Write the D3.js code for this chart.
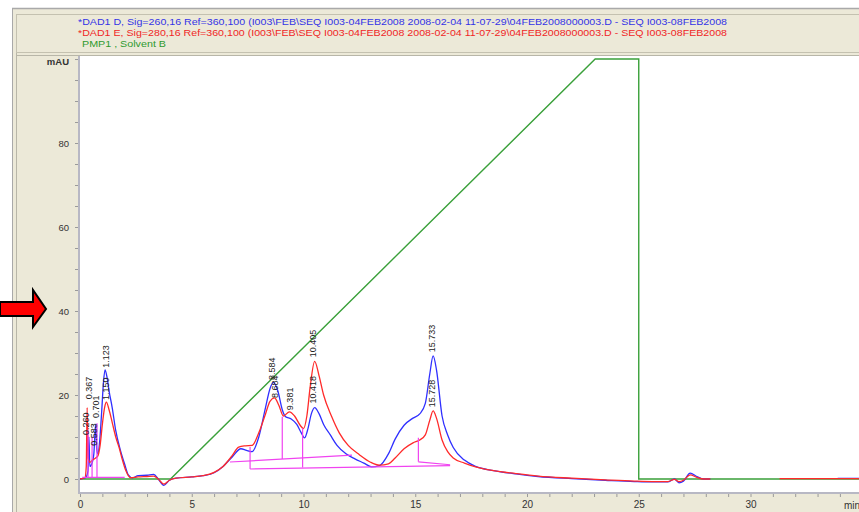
<!DOCTYPE html>
<html lang="en">
<head>
<meta charset="UTF-8" />
<title>Chromatogram DAD1 D / DAD1 E / Solvent B</title>
<script src="https://d3js.org/d3.v7.min.js"></script>
<style>
  html, body { margin: 0; padding: 0; background: #fff; }
  svg { display: block; font-family: Arial, "Liberation Sans", sans-serif; }
</style>
</head>
<body>
<div id="chart"></div>

<script>
// DAD1 D (260 nm) - retention time (min) and absorbance (mAU); null = no trace
const blueTime = [0, 0.25, 0.36, 0.40, 0.44, 0.55, 0.62, 0.70, 0.75, 0.80, 0.88, 0.97, 1.05, 1.12, 1.2, 1.3, 1.44, 1.6, 1.8, 2.0, 2.16, 2.35, 2.6, 3.0, 3.3, 3.5, 3.75, 4.0, 4.3, 5.0, 5.5, 6.0, 6.4, 6.8, 7.2, 7.45, 7.7, 8.0, 8.3, 8.5, 8.65, 8.85, 9.05, 9.2, 9.45, 9.7, 9.9, 10.05, 10.2, 10.35, 10.5, 10.7, 10.9, 11.2, 11.5, 11.9, 12.3, 12.7, 13.05, 13.4, 13.8, 14.1, 14.5, 14.9, 15.2, 15.45, 15.65, 15.8, 15.95, 16.2, 16.45, 16.7, 17.2, 17.7, 18.5, 19.5, 20.5, 22, 23.5, 24.8, 25.6, 26.3, 26.6, 26.8, 27.0, 27.3, 27.6, 27.9, 28.2, 28.3, 33.9, 35];
const blueMAU  = [0, 0.3, 2, 10, 3, 4, 6, 13, 7, 6, 9, 16, 23, 26, 24.5, 21, 17, 11.5, 7, 3.5, 1, 0.3, 0.8, 0.9, 1.1, 0, -1.5, -0.3, 0.2, 0.5, 0.8, 1.5, 3, 5.2, 7.2, 6.8, 6.5, 10, 17, 21.5, 23, 21, 16.5, 14.8, 14.3, 13, 11, 9.8, 12, 15.5, 17, 15.5, 13, 10.5, 8, 6, 4.8, 3.8, 2.9, 3.2, 6, 9.5, 12.8, 14.5, 15.5, 18, 25, 29.3, 26, 15, 10.5, 7.5, 4.5, 3, 2, 1.2, 0.6, 0.1, -0.3, -0.6, -0.7, -0.7, 0, -0.9, -0.5, 1.4, 0.6, 0, 0, null, 0.15, 0.15];

// DAD1 E (280 nm)
const redTime = [0, 0.22, 0.28, 0.32, 0.36, 0.45, 0.55, 0.70, 0.8, 0.9, 1.0, 1.1, 1.18, 1.3, 1.44, 1.6, 1.75, 1.9, 2.05, 2.25, 2.6, 3.0, 3.3, 3.5, 3.75, 4.0, 4.3, 5.0, 5.5, 6.0, 6.4, 6.8, 7.1, 7.4, 7.7, 8.0, 8.3, 8.5, 8.7, 8.9, 9.1, 9.37, 9.6, 9.85, 10.0, 10.15, 10.3, 10.5, 10.7, 10.9, 11.25, 11.6, 12.0, 12.5, 13.0, 13.4, 13.8, 14.1, 14.5, 14.9, 15.2, 15.45, 15.65, 15.8, 15.95, 16.2, 16.45, 16.7, 17.2, 17.7, 18.5, 19.5, 20.5, 22, 23.5, 24.8, 25.6, 26.3, 26.6, 26.8, 27.0, 27.3, 27.6, 27.9, 28.2, 28.3, 31.3, 35];
const redMAU  = [0, 0.3, 3, 17, 5, 4, 4.5, 5, 5.5, 8, 13, 17, 18.3, 16.5, 13.5, 10, 7.5, 4.5, 2, 0.3, 0.5, 0.6, 0.7, 0, -1.2, -0.3, 0.2, 0.5, 0.8, 1.6, 3, 5.5, 7.6, 7.9, 8, 11, 15.5, 18.5, 19.3, 17.5, 15, 16, 15, 12.8, 12, 15, 22, 28, 24.5, 20, 15, 11, 8, 5.8, 4, 3.3, 3.6, 5, 7.2, 8.6, 9.3, 10.5, 14, 16.2, 14.5, 9.3, 6.5, 5, 3.8, 2.9, 2.0, 1.3, 0.7, 0.2, -0.2, -0.5, -0.6, -0.6, -0.1, -0.6, -0.3, 1.0, 0.4, 0, 0, null, 0.1, 0.1];

// PMP1 solvent B (%)
const solventTime = [0, 4.05, 23.05, 25.0, 25.0, 35];
const solventB    = [0, 0, 100, 100, 0, 0];

// integration baselines: start and end point [min, mAU]
const baselineFrom = [[0.1, 0.4], [0.36, 0.4], [0.54, 0.4], [0.76, 0.4], [6.71, 4.05], [7.61, 2.38], [7.61, 2.38], [9.05, 4.76], [9.96, 2.76], [15.14, 4.1], [15.14, 4.1]];
const baselineTo   = [[2.0, 0.4], [0.36, 11.7], [0.54, 10], [0.76, 13.3], [12.17, 5.7], [16.56, 3.2], [7.61, 7.6], [9.05, 14.8], [9.96, 12.1], [15.14, 9.8], [16.56, 3.4]];

// peak retention time labels, label time and foot height (mAU)
const peakLabels    = ["0.260", "0.367", "0.583", "0.701", "1.123", "1.150", "8.584", "8.684", "9.381", "10.405", "10.418", "15.733", "15.728"];
const peakLabelTime = [0.26, 0.367, 0.583, 0.701, 1.123, 1.15, 8.584, 8.684, 9.381, 10.405, 10.418, 15.733, 15.728];
const peakLabelMAU  = [10.5, 19, 7.9, 14.5, 26.5, 18.8, 23.6, 19.3, 16.4, 29, 18, 30.2, 17.1];

const yTickValues = [0, 20, 40, 60, 80];
const xTickValues = [0, 5, 10, 15, 20, 25, 30];

const headerLines = [
  "*DAD1 D, Sig=260,16 Ref=360,100 (I003\\FEB\\SEQ I003-04FEB2008 2008-02-04 11-07-29\\04FEB2008000003.D - SEQ I003-08FEB2008",
  "*DAD1 E, Sig=280,16 Ref=360,100 (I003\\FEB\\SEQ I003-04FEB2008 2008-02-04 11-07-29\\04FEB2008000003.D - SEQ I003-08FEB2008",
  "PMP1 , Solvent B"
];
const headerColors = ["#3434e6", "#f02626", "#2f9a2f"];

document.addEventListener("DOMContentLoaded", () => {
  const width = 859, height = 512;
  const beige = "#ece9d8";

  const svg = d3.select("#chart").append("svg")
    .attr("width", width)
    .attr("height", height)
    .attr("viewBox", [0, 0, width, height]);

  const x = d3.scaleLinear().domain([0, 35]).range([80, 80 + 35 * 22.35]);
  const y = d3.scaleLinear().domain([-3.33, 100.48]).range([493, 57]);

  // window frame
  svg.append("rect").attr("width", width).attr("height", height).attr("fill", "#fff");
  svg.append("rect").attr("x", 12).attr("y", 8).attr("width", width - 12).attr("height", height - 8).attr("fill", beige);
  svg.append("line").attr("x1", 12).attr("x2", width).attr("y1", 8.5).attr("y2", 8.5).attr("stroke", "#a9a9a9").attr("stroke-width", 1.5);
  svg.append("line").attr("x1", 12.5).attr("x2", 12.5).attr("y1", 8).attr("y2", height).attr("stroke", "#a9a9a9");
  svg.append("line").attr("x1", 16.5).attr("x2", 16.5).attr("y1", 14).attr("y2", height).attr("stroke", "#b8b6a8");
  svg.append("rect").attr("x", 16.5).attr("y", 14.5).attr("width", width - 16).attr("height", 38)
    .attr("fill", beige).attr("stroke", "#c4c1b0");
  svg.append("line").attr("x1", 16).attr("x2", width).attr("y1", 55.5).attr("y2", 55.5).attr("stroke", "#b8b6a8");

  // header legend
  svg.append("g").selectAll("text").data(headerLines).join("text")
    .attr("x", (d, i) => i < 2 ? 78 : 82)
    .attr("y", (d, i) => 25 + i * 11)
    .attr("font-size", "9px")
    .attr("fill", (d, i) => headerColors[i])
    .attr("textLength", (d, i) => i < 2 ? 649 : 84)
    .attr("lengthAdjust", "spacingAndGlyphs")
    .text(d => d);

  // plot area
  svg.append("rect").attr("x", 80).attr("y", 56).attr("width", width - 80).attr("height", 437).attr("fill", "#fff");
  svg.append("defs").append("clipPath").attr("id", "plotclip")
    .append("rect").attr("x", 80).attr("y", 56).attr("width", width - 80).attr("height", 436);

  // axes
  const yAxis = d3.axisLeft(y)
    .tickValues(d3.range(0, 101, 5))
    .tickSize(4).tickPadding(6)
    .tickFormat(d => yTickValues.includes(d) ? d : "");
  const gy = svg.append("g").attr("transform", "translate(79,0)").call(yAxis);
  gy.select(".domain").remove();
  gy.selectAll("line").attr("stroke", "#9a9a9a");
  gy.selectAll("text").attr("font-size", "9.5px").attr("fill", "#333").attr("font-family", "Arial, sans-serif");

  const xAxis = d3.axisBottom(x)
    .tickValues(d3.range(0, 35, 1))
    .tickSize(4).tickPadding(4)
    .tickFormat(d => xTickValues.includes(d) ? d : "");
  const gx = svg.append("g").attr("transform", "translate(0,493)").call(xAxis);
  gx.select(".domain").remove();
  gx.selectAll("line").attr("stroke", "#9a9a9a");
  gx.selectAll("text").attr("font-size", "10px").attr("fill", "#333").attr("font-family", "Arial, sans-serif");

  svg.append("line").attr("x1", 79).attr("x2", 79).attr("y1", 56).attr("y2", 494)
    .attr("stroke", "#b8b8c4").attr("stroke-width", 2);
  svg.append("line").attr("x1", 78).attr("x2", width).attr("y1", 493).attr("y2", 493)
    .attr("stroke", "#b8b8c4").attr("stroke-width", 2);

  svg.append("text").attr("x", 69).attr("y", 65).attr("text-anchor", "end")
    .attr("font-size", "9.5px").attr("font-weight", "bold").attr("fill", "#333").text("mAU");
  svg.append("text").attr("x", 844).attr("y", 509)
    .attr("font-size", "10px").attr("fill", "#333").text("min");

  const plot = svg.append("g").attr("clip-path", "url(#plotclip)");

  const trace = (ts, vs) => ts.map((t, i) => ({ t, v: vs[i] }));
  const line = d3.line()
    .defined(d => d.v !== null)
    .x(d => x(d.t))
    .y(d => y(d.v))
    .curve(d3.curveMonotoneX);

  plot.append("path")
    .datum(trace(solventTime, solventB))
    .attr("fill", "none").attr("stroke", "#3aa03a").attr("stroke-width", 1.4)
    .attr("d", d3.line().x(d => x(d.t)).y(d => y(d.v)));

  plot.append("path")
    .datum(trace(blueTime, blueMAU))
    .attr("fill", "none").attr("stroke", "#2f2fff").attr("stroke-width", 1.3)
    .attr("d", line);

  plot.append("path")
    .datum(trace(redTime, redMAU))
    .attr("fill", "none").attr("stroke", "#ff2a2a").attr("stroke-width", 1.3)
    .attr("d", line);

  // integration baselines / drop lines
  plot.append("g").selectAll("line").data(baselineFrom).join("line")
    .attr("x1", d => x(d[0])).attr("y1", d => y(d[1]))
    .attr("x2", (d, i) => x(baselineTo[i][0])).attr("y2", (d, i) => y(baselineTo[i][1]))
    .attr("stroke", "#f044f0").attr("stroke-width", 1.2);

  // peak labels
  plot.append("g").selectAll("text").data(peakLabels).join("text")
    .attr("transform", (d, i) => `translate(${x(peakLabelTime[i]) + 3.5},${y(peakLabelMAU[i])}) rotate(-90)`)
    .attr("font-size", "9px")
    .attr("fill", "#222")
    .text(d => d);

  // annotation arrow
  svg.append("path")
    .attr("d", "M0,302 L33,302 L33,290 L46,309 L33,327 L33,316 L0,316 Z")
    .attr("fill", "#ff0000").attr("stroke", "#000").attr("stroke-width", 2)
    .attr("stroke-linejoin", "miter");
});
</script>
</body>
</html>
